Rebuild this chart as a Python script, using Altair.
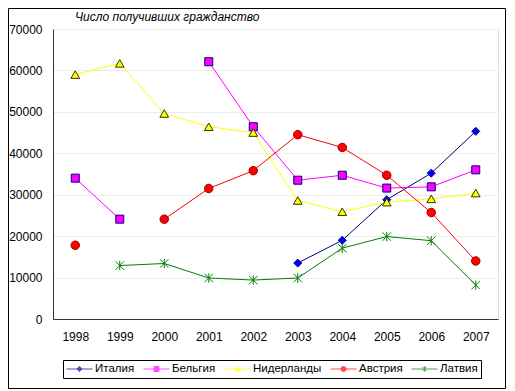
import altair as alt
import pandas as pd

years = ["1998", "1999", "2000", "2001", "2002", "2003", "2004", "2005", "2006", "2007"]
series = ["Италия", "Бельгия", "Нидерланды", "Австрия", "Латвия"]

italy = [None, None, None, None, None, 13500, 19000, 28800, 35200, 45300]
belgium = [34000, 24100, None, 62100, 46400, 33500, 34700, 31600, 31900, 36000]
netherlands = [59000, 61700, 49600, 46400, 45000, 28600, 25900, 28200, 29000, 30400]
austria = [17800, None, 24100, 31500, 35800, 44500, 41400, 34700, 25700, 14000]
latvia = [None, 12900, 13400, 9900, 9400, 9900, 17100, 19900, 18900, 8200]

y_ticks = [0, 10000, 20000, 30000, 40000, 50000, 60000, 70000]
title_text = "Число получивших гражданство"

line_colors = ["#000080", "#FF00FF", "#FFFF00", "#FF0000", "#008000"]
marker_fills = ["#0000FF", "#FF00FF", "#FFFF00", "#FF0000", "#008000"]
marker_strokes = ["#000080", "#000080", "#333300", "#990000", "#008000"]
marker_shapes = ["diamond", "square", "triangle-up", "circle",
                 "M-1,-1L1,1M-1,1L1,-1M0,-1.1V1.1"]
marker_sizes = [64, 64, 76, 72, 72]
legend_paths = [
    "M-1,0H1M0,-0.2L0.2,0L0,0.2L-0.2,0Z",
    "M-1,0H1M-0.19,-0.19H0.19V0.19H-0.19Z",
    "M-1,0H1M0,-0.2L0.2,0.15H-0.2Z",
    "M-1,0H1M-0.2,0A0.2,0.2,0,1,0,0.2,0A0.2,0.2,0,1,0,-0.2,0Z",
    "M-1,0H1M-0.17,-0.17L0.17,0.17M-0.17,0.17L0.17,-0.17M0,-0.22V0.22",
]

values = {"Италия": italy, "Бельгия": belgium, "Нидерланды": netherlands,
          "Австрия": austria, "Латвия": latvia}
rows = []
for s in series:
    for yr, v in zip(years, values[s]):
        rows.append({"year": yr, "series": s, "value": v})
df = pd.DataFrame(rows)

FONT = "Liberation Sans"

x_enc = alt.X("year:O", scale=alt.Scale(domain=years, type="point", padding=0.5),
              axis=alt.Axis(title=None, labelAngle=0, ticks=False, labelPadding=12,
                            labelFontSize=12, labelFont=FONT, labelColor="#000000",
                            domainColor="#333333", grid=False))
y_enc = alt.Y("value:Q", scale=alt.Scale(domain=[0, 70000], nice=False, zero=True),
              axis=alt.Axis(title=None, values=y_ticks, format="d", ticks=False,
                            labelPadding=11, labelFontSize=12, labelFont=FONT,
                            labelColor="#000000", domainColor="#333333",
                            gridColor="#ececec", grid=True))

base = alt.Chart(df)

lines = base.mark_line(strokeWidth=1, invalid="break-paths-filter-domains").encode(
    x=x_enc, y=y_enc,
    stroke=alt.Stroke("series:N", scale=alt.Scale(domain=series, range=line_colors), legend=None),
    detail="series:N",
)

point_layers = []
for i, s in enumerate(series):
    is_star = i == 4
    pl = base.transform_filter(alt.datum.series == s).transform_filter(
        "isValid(datum.value)").mark_point(
        shape=marker_shapes[i], size=marker_sizes[i], filled=not is_star,
        fill=("transparent" if is_star else marker_fills[i]),
        stroke=marker_strokes[i], strokeWidth=1, opacity=1,
    ).encode(x=x_enc, y=y_enc)
    point_layers.append(pl)

leg = alt.Legend(orient="none", legendX=10, legendY=331, direction="horizontal",
                 columns=5, strokeColor="#000000", fillColor="#ffffff", padding=3,
                 labelFontSize=11.5, labelFont=FONT, labelColor="#000000",
                 symbolSize=676, symbolStrokeWidth=1, labelOffset=2,
                 symbolFillColor="#888888", symbolStrokeColor="#888888",
                 clipHeight=12, columnPadding=8, cornerRadius=0)

legend_layer = base.transform_filter("false").mark_point(
    size=676, strokeWidth=1, filled=True).encode(
    x=x_enc, y=y_enc,
    shape=alt.Shape("series:N", scale=alt.Scale(domain=series, range=legend_paths),
                    legend=leg, title=None),
    stroke=alt.Stroke("series:N", scale=alt.Scale(domain=series, range=line_colors),
                      legend=leg, title=None),
    fill=alt.Fill("series:N", scale=alt.Scale(domain=series, range=marker_fills),
                  legend=leg, title=None),
)

title_layer = alt.Chart(pd.DataFrame({"t": [title_text]})).mark_text(
    align="left", baseline="middle", fontStyle="italic", fontSize=12, font=FONT,
    color="#000000").encode(text="t:N", x=alt.value(22), y=alt.value(-12))

frame = alt.Chart(pd.DataFrame({"a": [0]})).mark_rect(
    fill="transparent", stroke="#000000", strokeWidth=1).encode(
    x=alt.value(-44.5), x2=alt.value(452.5), y=alt.value(-20.5), y2=alt.value(359.5))

chart = alt.layer(lines, *point_layers, legend_layer, title_layer, frame).resolve_scale(
    shape="independent", stroke="independent", fill="independent"
).properties(
    width=445, height=290,
    autosize=alt.AutoSizeParams(type="none"),
    padding={"left": 45, "top": 21, "right": 9, "bottom": 72},
).configure_view(stroke="#d9d9d9").configure(background="#ffffff")

chart.save("out.html", embed_options={"renderer": "svg", "actions": False})
